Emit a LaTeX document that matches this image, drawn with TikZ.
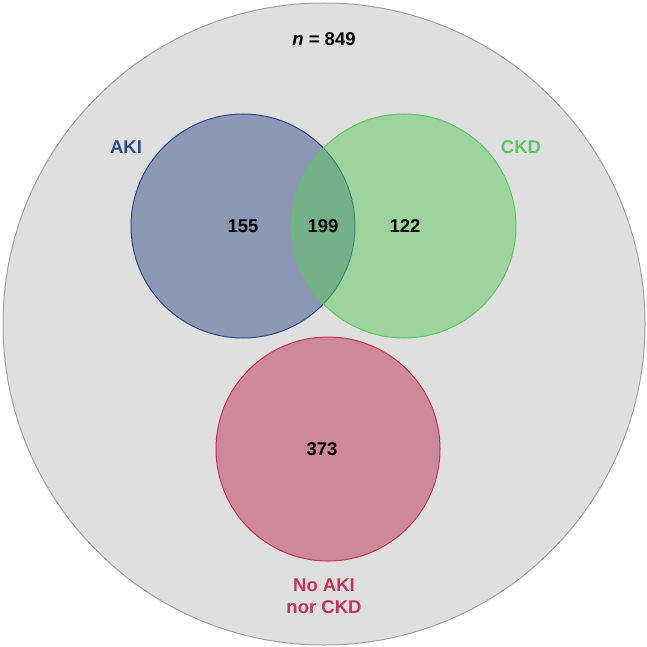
\documentclass[tikz,border=0pt]{standalone}
\usepackage{fontspec}
\setmainfont{Liberation Sans}
\definecolor{bgfill}{RGB}{223,223,223}
\definecolor{bgline}{RGB}{160,160,160}
\definecolor{akifill}{RGB}{141,152,181}
\definecolor{akiline}{RGB}{46,72,142}
\definecolor{ckdfill}{RGB}{93,201,93}
\definecolor{ckdline}{RGB}{92,200,98}
\definecolor{nofill}{RGB}{205,137,152}
\definecolor{noline}{RGB}{196,52,88}
\tikzset{
  setcircle/.style={circle, minimum size=224pt, inner sep=0pt, line width=1pt},
  lbl/.style={font=\fontsize{18.5}{22}\selectfont\bfseries, inner sep=0pt, align=center},
}
\begin{document}
\begin{tikzpicture}[x=1pt,y=-1pt]
\useasboundingbox (0,0) rectangle (646,647);
\node[circle, minimum size=642pt, inner sep=0pt, fill=bgfill, draw=bgline, line width=1pt] (all) at (324,324) {};
\node[setcircle, fill=akifill, draw=akiline] (aki) at (243,226) {};
\node[setcircle, fill=ckdfill, fill opacity=0.5, draw=ckdline, draw opacity=1] (ckd) at (404,226) {};
\node[setcircle, fill=nofill, draw=noline] (none) at (328,449) {};
\node[lbl] (n) at (324,39) {\textit{n} = 849};
\node[lbl, text=akiline] (akilbl) at (126,147) {AKI};
\node[lbl, text=ckdline] (ckdlbl) at (521,147) {CKD};
\node[lbl] (v155) at (243,226) {155};
\node[lbl] (v199) at (323,226) {199};
\node[lbl] (v122) at (405,226) {122};
\node[lbl] (v373) at (322,449) {373};
\node[lbl, text=noline] (nolbl) at (324,596) {No AKI\\nor CKD};
\end{tikzpicture}
\end{document}
